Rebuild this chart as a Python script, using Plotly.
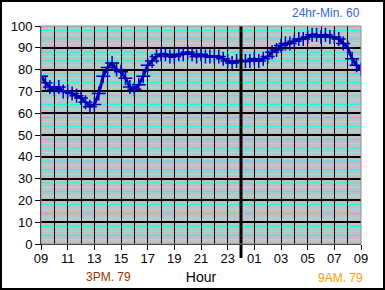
import plotly.graph_objects as go

# hours since 00:00 of first day (9 -> 33), 20-minute steps
hours = [9 + i / 3 for i in range(73)]
temps = [
    77, 74, 72,   # 09
    71, 72, 70,   # 10
    70, 69, 68,   # 11
    67, 65, 63,   # 12
    64, 69, 77,   # 13
    81, 83, 80,   # 14
    79, 76, 72,   # 15
    71, 73, 77,   # 16
    82, 84, 86,   # 17
    87, 87, 86,   # 18
    86, 87, 87,   # 19
    88, 87, 86,   # 20
    87, 86, 86,   # 21
    86, 86, 85,   # 22
    84, 83, 84,   # 23
    84, 84, 84,   # 00
    85, 84, 85,   # 01
    86, 88, 89,   # 02
    91, 92, 92,   # 03
    93, 94, 94,   # 04
    95, 96, 96,   # 05
    95, 96, 95,   # 06
    95, 94, 92,   # 07
    90, 85, 82,   # 08
    80,           # 09
]
tick_vals = list(range(9, 34, 2))
tick_text = ["09", "11", "13", "15", "17", "19", "21", "23", "01", "03", "05", "07", "09"]
y_ticks = list(range(0, 101, 10))
minor_bright = [v + 8 for v in range(0, 100, 10)] + [v + 4 for v in range(0, 100, 10)]
minor_thin = [v + 6 for v in range(0, 100, 10)] + [v + 2 for v in range(0, 100, 10)]
midnight = 24

title_txt = "24hr-Min. 60"
left_txt = "3PM. 79"
right_txt = "9AM. 79"

W, H = 385, 290
L, R, T, B = 41, 24, 26, 46
pw, ph = W - L - R, H - T - B

fig = go.Figure()
fig.add_trace(go.Scatter(
    x=hours, y=temps, mode="lines+markers",
    line=dict(color="#0000A8", width=3),
    marker=dict(symbol="cross-thin", size=10, line=dict(color="#0000B8", width=1.5)),
    showlegend=False, hoverinfo="skip",
))

shapes = []
for v in minor_thin:
    shapes.append(dict(type="line", xref="paper", x0=0, x1=1, yref="y", y0=v, y1=v,
                       line=dict(color="#90E4E8", width=1), layer="below"))
for v in minor_bright:
    shapes.append(dict(type="line", xref="paper", x0=0, x1=1, yref="y", y0=v, y1=v,
                       line=dict(color="#00FFFF", width=1), layer="below"))
shapes.append(dict(type="line", xref="x", x0=midnight, x1=midnight, yref="paper",
                   y0=-14 / ph, y1=1, line=dict(color="black", width=3)))
shapes.append(dict(type="rect", xref="paper", yref="paper", x0=0, x1=1, y0=0, y1=1,
                   line=dict(color="#909090", width=1), layer="above"))
shapes.append(dict(type="rect", xref="paper", yref="paper",
                   x0=(-L + 1) / pw, x1=1 + (R - 1) / pw,
                   y0=(-B + 1) / ph, y1=1 + (T - 1) / ph,
                   line=dict(color="black", width=2)))

fig.update_layout(
    width=W, height=H,
    margin=dict(l=L, r=R, t=T, b=B, autoexpand=False),
    paper_bgcolor="white", plot_bgcolor="#C0C0C0",
    font=dict(family="Liberation Sans, Arial, sans-serif", size=13, color="black"),
    shapes=shapes,
    xaxis=dict(range=[9, 33], tickvals=tick_vals, ticktext=tick_text,
               ticks="outside", ticklen=5, tickcolor="black", automargin=False,
               ticklabelstandoff=-3,
               showgrid=True, gridcolor="black", gridwidth=1,
               minor=dict(dtick=1, showgrid=True, gridcolor="black", gridwidth=1),
               zeroline=False, showline=True, linecolor="black", linewidth=1,
               title=dict(text="Hour", standoff=7, font=dict(size=14)),
               tickfont=dict(size=13)),
    yaxis=dict(range=[0, 100], tickvals=y_ticks, ticks="outside", ticklen=5,
               tickcolor="black", showgrid=True, gridcolor="black", gridwidth=1.5,
               zeroline=False, showline=True, linecolor="black", linewidth=1,
               automargin=False, tickfont=dict(size=13)),
    annotations=[
        dict(text=title_txt, xref="paper", yref="paper", x=1 + (R - 23) / pw,
             y=1 + (T - 13) / ph, xanchor="right", yanchor="middle", showarrow=False,
             font=dict(color="#3366DD", size=12)),
        dict(text=left_txt, xref="paper", yref="paper", x=(108 - L) / pw,
             y=-(277 - T - ph) / ph, xanchor="center", yanchor="middle", showarrow=False,
             font=dict(color="#993300", size=12)),
        dict(text=right_txt, xref="paper", yref="paper", x=(365 - L) / pw,
             y=-(278 - T - ph) / ph, xanchor="right", yanchor="middle", showarrow=False,
             font=dict(color="#FF9900", size=12)),
    ],
)
fig.write_html("out.html")
